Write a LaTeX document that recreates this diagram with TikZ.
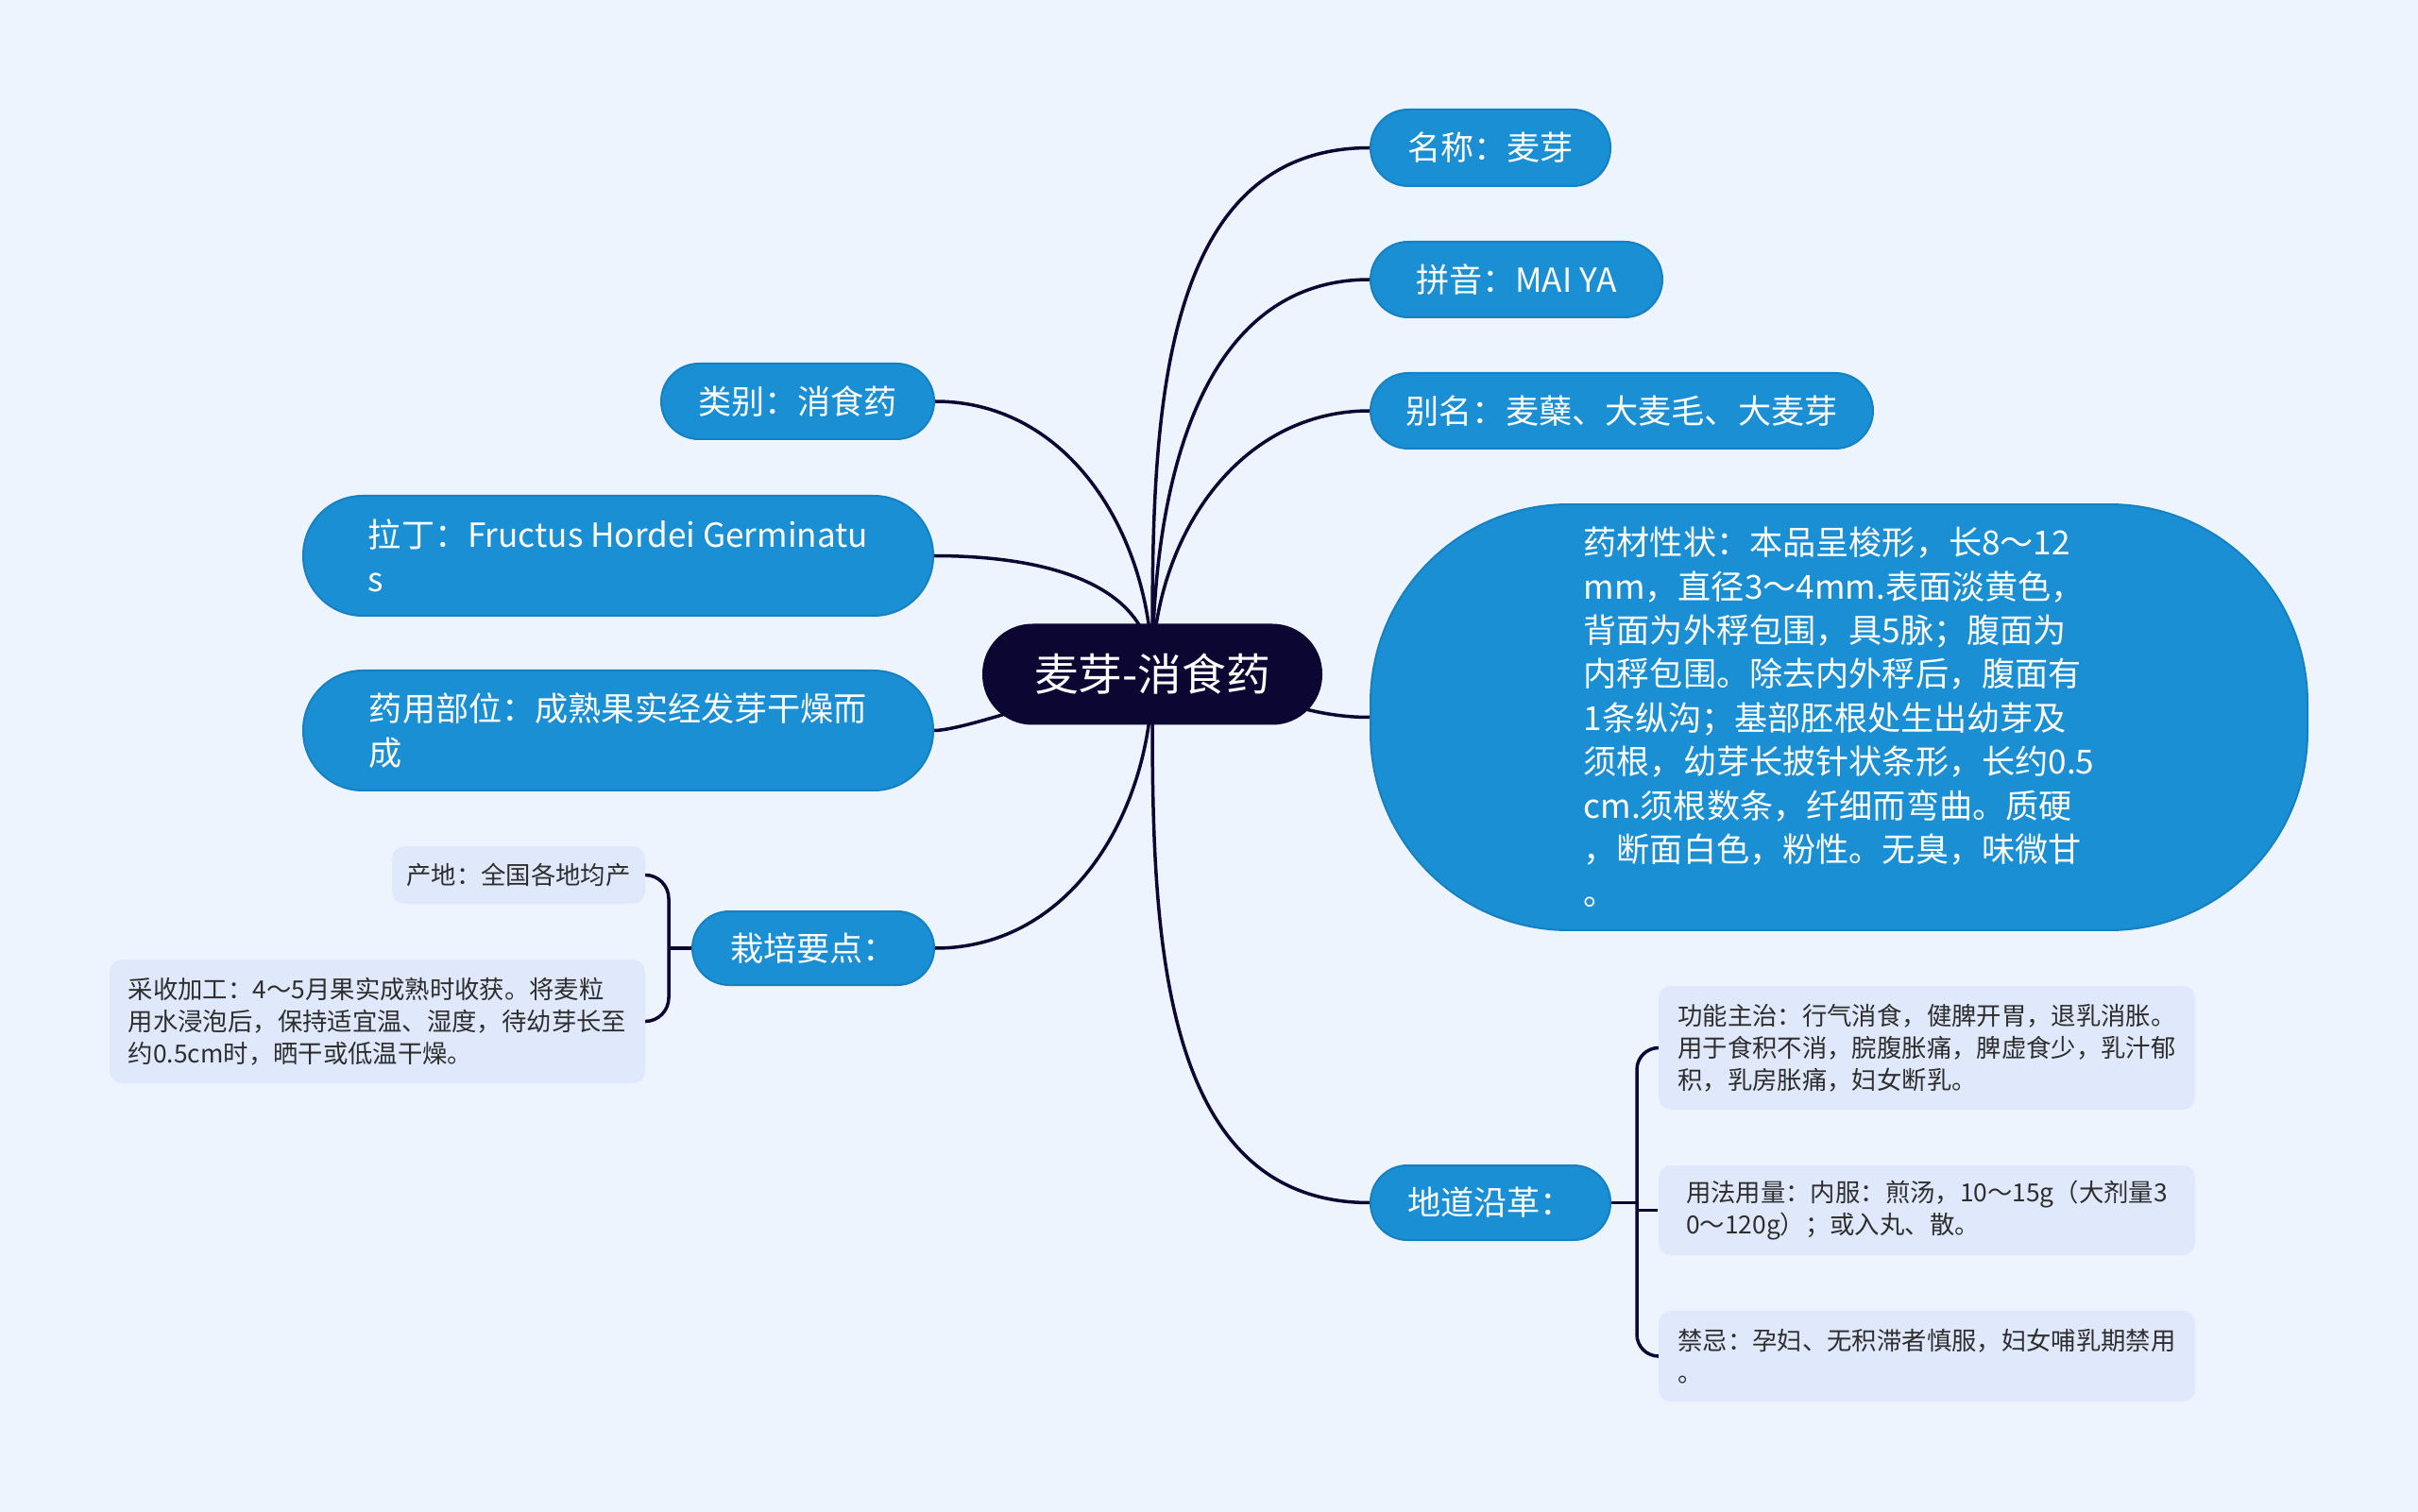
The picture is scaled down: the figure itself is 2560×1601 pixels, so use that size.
\documentclass[tikz,border=0pt]{standalone}
\usepackage{fontspec}
\setmainfont{Noto Sans CJK SC}

\definecolor{paper}{HTML}{EEF4FE}
\definecolor{rootfill}{HTML}{0C0632}
\definecolor{topicfill}{HTML}{1A8FD3}
\definecolor{topicline}{HTML}{1580C2}
\definecolor{leaffill}{HTML}{DFE9FB}
\definecolor{leaftext}{HTML}{2E2E2E}
\definecolor{wirecol}{HTML}{0C0632}

\pgfdeclarelayer{bg}
\pgfsetlayers{bg,main}

\begin{document}
\begin{tikzpicture}[x=0.1mm, y=-0.1mm,
    root/.style={fill=rootfill, text=white, rounded corners=5.3mm, minimum width=36mm, minimum height=10.7mm, inner sep=0pt, font=\fontsize{13.3}{16}\selectfont},
    topic/.style={fill=topicfill, draw=topicline, line width=0.2mm, text=white, align=left, inner sep=0pt, font=\fontsize{10}{13.2}\selectfont},
    leaf/.style={fill=leaffill, text=leaftext, align=left, inner sep=0pt, rounded corners=1.3mm, font=\fontsize{7.5}{9.7}\selectfont},
    wire/.style={draw=wirecol, line width=0.35mm}]

      \useasboundingbox (0,0) rectangle (2560,1601);
      \begin{pgfonlayer}{bg}
        \fill[paper] (0,0) rectangle (2560,1601);
      \end{pgfonlayer}

      \node[root]  (root)       at (1220, 714)   {麦芽-消食药};

      \node[topic, rounded corners=4mm, minimum width=25.4mm, minimum height=8.1mm]   (mingcheng)  at (1578, 156.5) {名称：麦芽};
      \node[topic, rounded corners=4mm, minimum width=30.9mm, minimum height=8mm]     (pinyin)     at (1605.5, 296) {拼音：MAI YA};
      \node[topic, rounded corners=4mm, minimum width=53.2mm, minimum height=8mm]     (bieming)    at (1717, 435)   {别名：麦蘖、大麦毛、大麦芽};
      \node[topic, rounded corners=21mm, minimum width=99.2mm, minimum height=45.1mm] (xingzhuang) at (1947, 759.5) {药材性状：本品呈梭形，长8～12\\mm，直径3～4mm.表面淡黄色，\\背面为外稃包围，具5脉；腹面为\\内稃包围。除去内外稃后，腹面有\\1条纵沟；基部胚根处生出幼芽及\\须根，幼芽长披针状条形，长约0.5\\cm.须根数条，纤细而弯曲。质硬\\，断面白色，粉性。无臭，味微甘\\。};
      \node[topic, rounded corners=3.9mm, minimum width=25.4mm, minimum height=7.9mm] (didao)      at (1578, 1273.5) {地道沿革：};

      \node[topic, rounded corners=4mm, minimum width=28.9mm, minimum height=8mm]     (leibie)     at (844.5, 425)  {类别：消食药};
      \node[topic, rounded corners=6.3mm, minimum width=66.7mm, minimum height=12.7mm] (lading)    at (654.5, 588.5) {拉丁：Fructus Hordei Germinatu\\s};
      \node[topic, rounded corners=6.3mm, minimum width=66.7mm, minimum height=12.7mm] (buwei)     at (654.5, 773.5) {药用部位：成熟果实经发芽干燥而\\成};
      \node[topic, rounded corners=3.9mm, minimum width=25.6mm, minimum height=7.8mm] (zaipei)     at (861, 1004)   {栽培要点：};

      \node[leaf, minimum width=26.8mm, minimum height=6.1mm]  (chandi)   at (549, 926.5)   {产地：全国各地均产};
      \node[leaf, minimum width=56.7mm, minimum height=13.1mm] (caishou)  at (399.5, 1081.5) {采收加工：4～5月果实成熟时收获。将麦粒\\用水浸泡后，保持适宜温、湿度，待幼芽长至\\约0.5cm时，晒干或低温干燥。};

      \node[leaf, minimum width=56.8mm, minimum height=13.1mm] (gongneng) at (2040, 1109.5)  {功能主治：行气消食，健脾开胃，退乳消胀。\\用于食积不消，脘腹胀痛，脾虚食少，乳汁郁\\积，乳房胀痛，妇女断乳。};
      \node[leaf, minimum width=56.8mm, minimum height=9.5mm]  (yongfa)   at (2040, 1281.5)  {用法用量：内服：煎汤，10～15g（大剂量3\\0～120g）；或入丸、散。};
      \node[leaf, minimum width=56.8mm, minimum height=9.6mm]  (jinji)    at (2040, 1436)    {禁忌：孕妇、无积滞者慎服，妇女哺乳期禁用\\。};

      \coordinate (zpjoin) at ([xshift=-2.4mm]zaipei.west);
      \coordinate (ddjoin) at ([xshift=2.7mm]didao.east);

      \begin{pgfonlayer}{bg}
        \draw[wire] (root.center) to[out=90, in=180]  (mingcheng.west);
        \draw[wire] (root.center) to[out=90, in=180]  (pinyin.west);
        \draw[wire] (root.center) to[out=90, in=180]  (bieming.west);
        \draw[wire] (root.center) to[out=0, in=180]   (xingzhuang.west);
        \draw[wire] (root.center) to[out=-90, in=180] (didao.west);

        \draw[wire] (root.center) to[out=90, in=0]    (leibie.east);
        \draw[wire] (root.center) to[out=90, in=0]    (lading.east);
        \draw[wire] (root.center) to[out=180, in=0, looseness=0.4] (buwei.east);
        \draw[wire] (root.center) to[out=-90, in=0]   (zaipei.east);

        \draw[wire] (zaipei.west) -- (zpjoin);
        \draw[wire, rounded corners=2.5mm] (chandi.east) -| (zpjoin) |- (caishou.east);

        \draw[wire] (didao.east) -- (ddjoin);
        \draw[wire] (ddjoin |- yongfa.west) -- (yongfa.west);
        \draw[wire, rounded corners=2.3mm] (gongneng.west) -| (ddjoin) |- (jinji.west);
      \end{pgfonlayer}
    \end{tikzpicture}
\end{document}
